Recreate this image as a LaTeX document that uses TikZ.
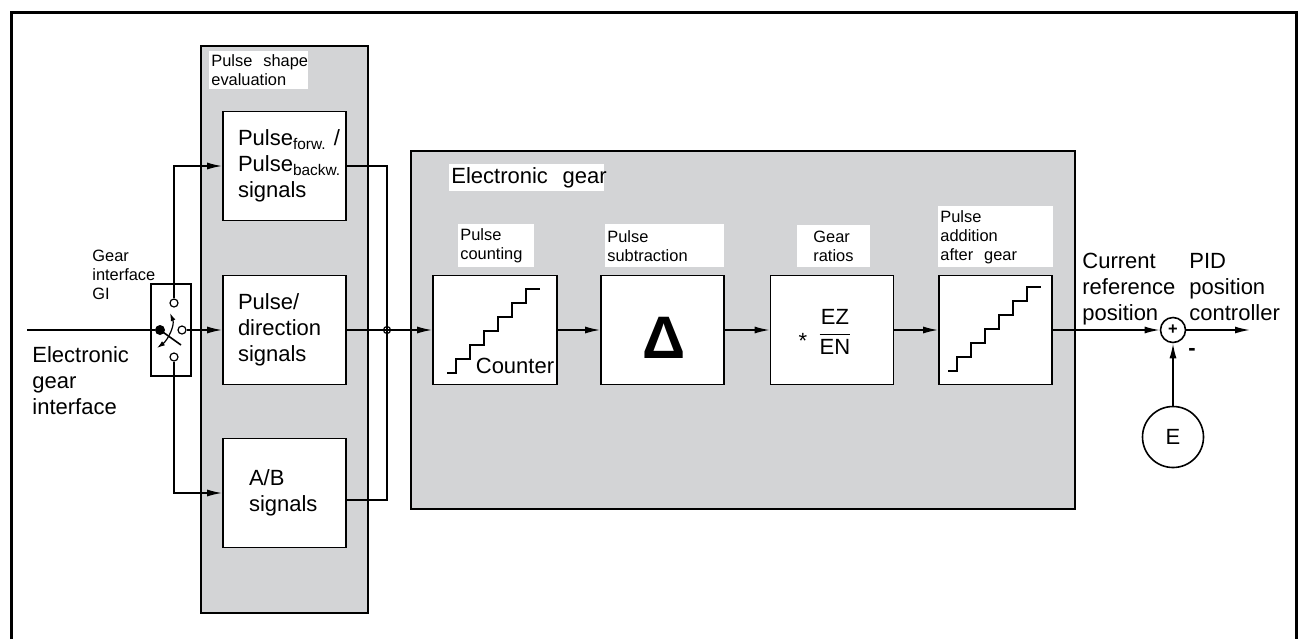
\documentclass[tikz,border=0pt]{standalone}
\usepackage{fontspec}
\setmainfont{Liberation Sans}
\usepackage{tikz}
\usetikzlibrary{arrows.meta}
\definecolor{panelgray}{RGB}{211,212,214}
\newcommand{\bigtxt}{\fontsize{11}{13}\selectfont}
\newcommand{\smalltxt}{\fontsize{8.2}{9.5}\selectfont}
\tikzset{
  blk/.style={draw, fill=white, line width=0.8pt, minimum width=61.5pt, minimum height=54.5pt, inner sep=0pt},
  sigblk/.style={blk, inner xsep=7.5pt, text width=46.5pt, align=left, font=\bigtxt},
  panel/.style={draw, fill=panelgray, line width=0.9pt, inner sep=0pt},
  lbl/.style={fill=white, anchor=north west, inner xsep=1pt, inner ysep=0pt, align=left, font=\smalltxt},
  txt/.style={anchor=west, align=left, inner sep=0pt},
  port/.style={draw, circle, fill=white, inner sep=0pt, minimum size=4pt, line width=0.6pt},
  flow/.style={-{Latex[length=7.5pt,width=3.5pt]}, line width=0.8pt},
  wire/.style={line width=0.8pt}
}

\begin{document}
\begin{tikzpicture}[x=0.5pt, y=-0.5pt]
\useasboundingbox (0,0) rectangle (1300,639);
\draw[line width=1.5pt] (11,639) -- (11,12) -- (1296,12) -- (1296,639);

% grey panels
\node[panel, minimum width=83.5pt, minimum height=283.5pt] (pse) at (284.5,329.5) {};
\node[panel, minimum width=332pt, minimum height=179pt] (eg) at (743,330) {};
\node[lbl, text width=47.5pt, minimum height=19pt] (pselbl) at (209,51) {Pulse~ shape\\evaluation};
\node[lbl, font=\bigtxt, text width=75.5pt, minimum height=13.5pt] (eglbl) at (449,164) {Electronic~ gear};

% gear interface switch
\node[draw, wire, minimum width=20pt, minimum height=46pt, inner sep=0pt] (gi) at (171,330) {};
\node[circle, fill, inner sep=0pt, minimum size=5pt] (pivot) at (160,330) {};
\node[port] (pup) at (174,303) {};
\node[port] (pmid) at (182,330) {};
\node[port] (pdn) at (174,357) {};
\coordinate (inp) at (27,330);
\coordinate (arm) at (181,345);
\draw[wire] (inp) -- (pivot);
\draw[wire] (pivot.center) -- (arm);
\draw[{Latex[length=4pt,width=2.5pt]}-{Latex[length=4pt,width=2.5pt]}, line width=0.6pt] (170,313) .. controls (175,325) and (168,340) .. (157,348);
\node[txt, font=\smalltxt] (gilbl) at (92,275) {Gear\\interface\\GI};
\node[txt, font=\bigtxt] (egi) at (32,381) {Electronic\\gear\\interface};

% pulse shape evaluation
\node[sigblk] (pfb) at (284.5,166) {Pulse\textsubscript{forw.}~/\\Pulse\textsubscript{backw.}\\signals};
\node[sigblk] (pdir) at (284.5,330) {Pulse/\\direction\\signals};
\node[sigblk, inner xsep=13pt, text width=35.5pt] (pab) at (284.5,493) {A/B\\signals};
\draw[flow] (pup.north) |- (pfb.west);
\draw[flow] (pmid.east) -- (pdir.west);
\draw[flow] (pdn.south) |- (pab.west);

\coordinate (bt) at (387,166);
\coordinate (bb) at (387,500);
\node[circle, draw, inner sep=0pt, minimum size=3.5pt, line width=0.6pt] (jn) at (387,330) {};
\draw[wire] (pfb.east) -- (bt) -- (bb) -- (pab.east |- bb);
\draw[wire] (pdir.east) -- (jn.center);

% electronic gear
\node[blk, minimum width=62pt] (cnt) at (495,330) {};
\node[blk] (sub) at (662.5,330) {};
\node[blk] (gr) at (832,330) {};
\node[blk, minimum width=56.5pt] (add) at (995.5,330) {};
\node[lbl, text width=36pt, minimum height=21.5pt] (cntlbl) at (458,224) {Pulse\\counting};
\node[lbl, text width=57.5pt, minimum height=21.5pt] (sublbl) at (605,224) {Pulse\\subtraction};
\node[lbl, inner xsep=8pt, text width=20.5pt, minimum height=21pt] (grlbl) at (797,225) {Gear\\ratios};
\node[lbl, text width=55.5pt, minimum height=30.5pt] (addlbl) at (938,206) {Pulse\\addition\\after~ gear};

\draw[wire] (447,373) -- ++(9,0) \foreach \s in {1,...,6} {-- ++(0,-14) -- ++(14,0)};
\node[font=\bigtxt, inner sep=0pt] (cntr) at (515,366) {Counter};
\node[inner sep=0pt] (dlt) at (664,338) {\fontsize{30}{30}\selectfont\bfseries Δ};
\node[font=\bigtxt, inner sep=0pt] (ast) at (803,341) {*};
\node[font=\bigtxt, inner sep=0pt] (ratio) at (835,332) {$\displaystyle\frac{\mbox{EZ}}{\mbox{EN}}$};
\draw[wire] (948,371) -- ++(9,0) \foreach \s in {1,...,6} {-- ++(0,-14) -- ++(14,0)};

\draw[flow] (jn.center) -- (cnt.west);
\draw[flow] (cnt.east) -- (sub.west);
\draw[flow] (sub.east) -- (gr.west);
\draw[flow] (gr.east) -- (add.west);

% position controller input
\node[circle, draw, wire, minimum size=12.5pt, inner sep=0pt, font=\smalltxt\bfseries] (sum) at (1173,330) {+};
\node[circle, draw, wire, minimum size=30.5pt, inner sep=0pt, font=\bigtxt] (enc) at (1173,437) {E};
\coordinate (pid) at (1250,330);
\draw[flow] (add.east) -- (sum.west);
\draw[flow] (sum.east) -- (pid);
\draw[flow] (enc.north) -- (sum.south);
\node[font=\bigtxt\bfseries, inner sep=0pt] (minus) at (1192,352) {-};
\node[txt, font=\bigtxt] (crp) at (1082,289) {Current\\reference\\position};
\node[txt, font=\bigtxt] (pidlbl) at (1189,287) {PID\\position\\controller};
\end{tikzpicture}
\end{document}
